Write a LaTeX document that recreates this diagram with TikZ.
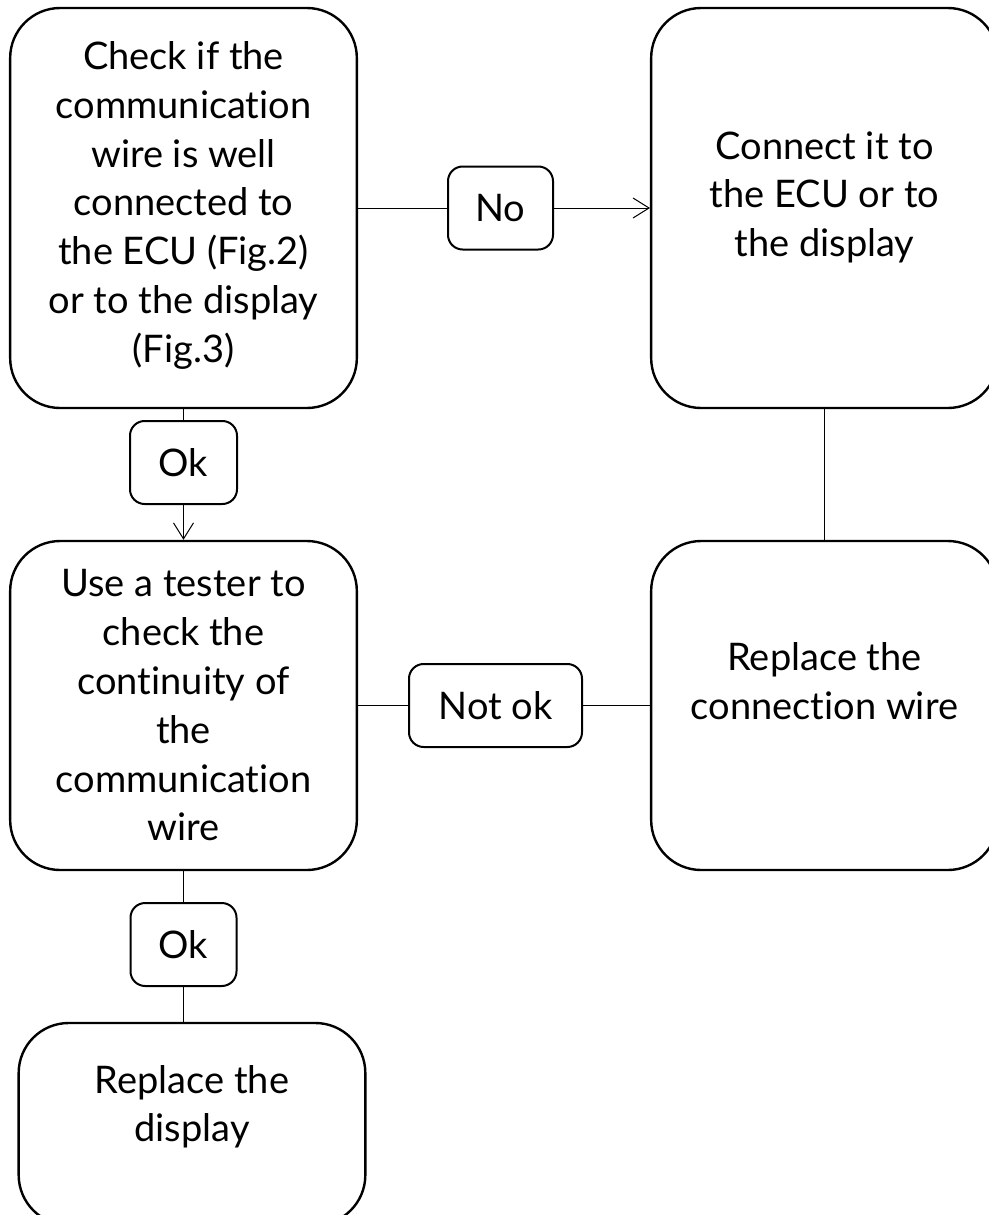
\documentclass[tikz,border=0pt]{standalone}
\usepackage{fontspec}
\setmainfont{Lato}[Ligatures={NoCommon}]
\usetikzlibrary{arrows.meta,positioning}

\begin{document}
\begin{tikzpicture}[x=0.75pt,y=-0.75pt,on grid,
    stepbox/.style={draw,line width=1.8pt,rounded corners=37.5pt,minimum width=260pt},
    txt/.style={align=center,font=\fontsize{28.5}{36.6}\selectfont},
    answer/.style={draw,line width=1.5pt,rounded corners=11pt,minimum height=62.25pt,
                   font=\fontsize{28.5}{36.6}\selectfont},
    wire/.style={line width=0.75pt},
    >={Straight Barb[length=12pt,width=15pt]}]
    \useasboundingbox (0,0) rectangle (989,1215);
    \clip (0,0) rectangle (989,1215);

    \node[stepbox,minimum height=300pt] (A) at (183.5,208) {};
    \node[stepbox,minimum height=300pt] (B) [right=480.75pt of A] {};
    \node[stepbox,minimum height=246.75pt] (C) [below=373.125pt of A] {};
    \node[stepbox,minimum height=246.75pt] (D) [below=373.125pt of B] {};
    \node[stepbox,minimum height=151.5pt] (E) at (192,1124) {};

    \node[txt] (A-text) at ([yshift=2pt]A) {Check if the\\communication\\wire is well\\connected to\\the ECU (Fig.2)\\or to the display\\(Fig.3)};
    \node[txt] (B-text) at ([yshift=8pt]B) {Connect it to\\the ECU or to\\the display};
    \node[txt] (C-text) at (C) {Use a tester to\\check the\\continuity of\\the\\communication\\wire};
    \node[txt] (D-text) at ([yshift=18.5pt]D) {Replace the\\connection wire};
    \node[txt] (E-text) at ([yshift=13pt]E) {Replace the\\display};

    \node[answer,minimum width=78.75pt] (no) at (500.5,208) {No};
    \node[answer,minimum width=80.25pt] (ok1) at (183.5,462.5) {Ok};
    \node[answer,minimum width=129.75pt] (notok) at (495.5,705.5) {Not ok};
    \node[answer,minimum width=79.5pt] (ok2) at (183.5,944.5) {Ok};

    \draw[wire] (A) -- (no);
    \draw[wire,->] (no) -- (B);
    \draw[wire] (A) -- (ok1);
    \draw[wire,->] (ok1) -- (C);
    \draw[wire] (C) -- (notok);
    \draw[wire] (notok) -- (D);
    \draw[wire] (B) -- (D);
    \draw[wire] (C) -- (ok2);
    \draw[wire] (ok2.south) -- (ok2.south |- E.north);
\end{tikzpicture}
\end{document}
